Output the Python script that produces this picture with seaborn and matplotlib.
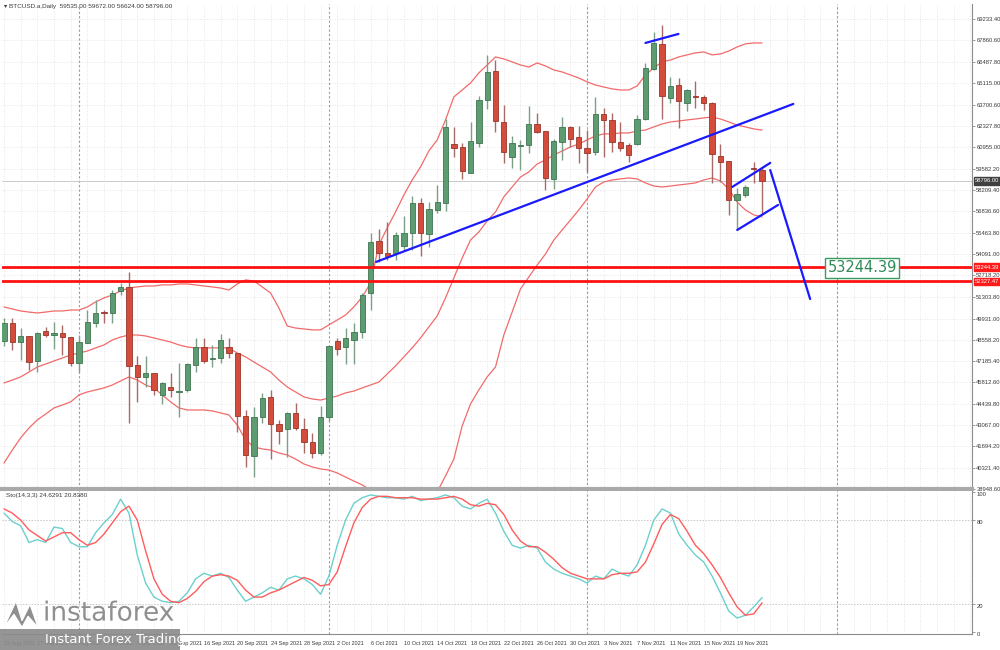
import numpy as np
import pandas as pd
import matplotlib
matplotlib.use("Agg")
import matplotlib.pyplot as plt
import matplotlib.dates as mdates
import matplotlib.transforms as mtrans
import matplotlib.patheffects as pe
from matplotlib.patches import Rectangle, Polygon
import seaborn as sns

# ---------------- data ----------------
start_date = "2021-08-23"
n_days = 92
dates = pd.date_range(start_date, periods=n_days, freq="D")

open_ = [48490, 49650, 48420, 48810, 47200, 49130, 48870, 49000, 48740, 47070,
         48360, 49650, 50350, 50290, 51710, 51970, 46940, 46170, 46420, 45010,
         45520, 45200, 45330, 46940, 48100, 47330, 47390, 48100, 47710, 43650,
         41080, 43590, 44880, 43140, 42820, 43850, 42820, 41980, 41270, 43590,
         48490, 48100, 48550, 49070, 51580, 54930, 54160, 54160, 54610, 55450,
         57380, 55380, 56930, 57380, 61180, 60990, 59310, 61250, 64020, 65880,
         62600, 60340, 61050, 61120, 62470, 62020, 58930, 61310, 62280, 61630,
         60920, 60670, 63110, 62730, 61310, 61120, 61180, 62790, 66010, 67630,
         64140, 64980, 63820, 64270, 64210, 63820, 60410, 60090, 57570, 57890,
         59630, 59535]
high = [49970, 49970, 49320, 48810, 49070, 49390, 49710, 49520, 48740, 48870,
        50480, 51130, 50480, 51770, 52220, 52930, 47520, 47520, 46420, 45840,
        46420, 47070, 47070, 48680, 48680, 48230, 48940, 48680, 47710, 44040,
        44230, 45140, 45330, 43400, 43910, 44490, 43520, 42560, 44300, 48160,
        48680, 49320, 49650, 51580, 55450, 55700, 56150, 55510, 56540, 57830,
        57700, 57440, 58540, 62790, 62280, 61250, 62600, 64270, 66920, 66590,
        63690, 61700, 61440, 63630, 63180, 62020, 61500, 62920, 62340, 62340,
        62080, 64210, 63500, 63180, 62600, 61250, 63050, 66400, 68400, 68850,
        65500, 65430, 64730, 65240, 64340, 63890, 61180, 60090, 58350, 58540,
        60020, 59672]
low = [48160, 47910, 47260, 46620, 46490, 48740, 47970, 47580, 46880, 46490,
       48360, 49390, 49650, 49650, 51450, 43200, 44560, 45520, 45010, 44430,
       44880, 43590, 45200, 46490, 47070, 46810, 47070, 47390, 42620, 40370,
       39720, 43200, 40880, 41850, 41010, 42750, 41270, 40950, 41140, 43330,
       47580, 47000, 47000, 48680, 50480, 53580, 53710, 53710, 54350, 54350,
       53960, 54540, 56730, 56860, 60340, 58930, 59310, 60990, 63440, 61950,
       59960, 59630, 59510, 60600, 61890, 58220, 58280, 60150, 60990, 59960,
       59380, 60470, 60340, 60670, 60730, 60020, 61120, 62730, 65950, 62790,
       63820, 62210, 63310, 63500, 63370, 58670, 58730, 56610, 55640, 57770,
       58670, 56624]
close = [49650, 48420, 48810, 47130, 49000, 48870, 49000, 48740, 47070, 48420,
         49710, 50290, 50290, 51580, 51970, 46880, 46170, 46420, 45330, 45780,
         45330, 45260, 47000, 48100, 47200, 47390, 48550, 47710, 43650, 41140,
         43590, 44810, 43140, 42690, 43850, 42880, 41980, 41270, 43590, 48160,
         47970, 48680, 49070, 51450, 54870, 54160, 53960, 55320, 55450, 57380,
         55450, 56990, 57440, 62280, 60920, 59440, 61370, 64020, 65820, 62660,
         60670, 61250, 61120, 62470, 61950, 58990, 61370, 62280, 61500, 60920,
         60600, 63110, 62730, 61310, 60920, 60470, 62790, 66080, 67690, 64270,
         64920, 63950, 64660, 64210, 63820, 60540, 60020, 57570, 57960, 58410,
         59570, 58796]

bb_upper = [50680, 50550, 50420, 50350, 50290, 50350, 50420, 50420, 50480, 50480,
            50680, 51000, 51260, 51450, 51710, 51900, 51970, 52030, 52030, 52100,
            52100, 52160, 52160, 52100, 52030, 51970, 51900, 51770, 52160, 52420,
            52350, 51970, 51580, 50610, 49450, 49320, 49260, 49200, 49200, 49520,
            49840, 50160, 50680, 51320, 52220, 54670, 55770, 56800, 57890, 58860,
            59700, 60730, 61440, 62730, 64210, 64660, 65110, 65760, 66270, 66790,
            66660, 66470, 66270, 66140, 66400, 66210, 65950, 65820, 65630, 65430,
            65180, 64980, 64850, 64730, 64660, 64660, 64920, 65630, 66080, 66470,
            66590, 66790, 66920, 67050, 67110, 66920, 66980, 67170, 67430, 67630,
            67690, 67690]
bb_mid = [45780, 45970, 46170, 46490, 46810, 47000, 47200, 47390, 47580, 47710,
          47840, 48040, 48230, 48550, 48740, 48870, 48870, 48810, 48680, 48550,
          48420, 48230, 48100, 48040, 48040, 48040, 48040, 48040, 47710, 47460,
          47130, 46810, 46490, 45970, 45520, 45200, 44880, 44750, 44680, 44810,
          44940, 45140, 45260, 45460, 45650, 45840, 46360, 46880, 47460, 48040,
          48680, 49390, 50100, 51260, 52550, 53830, 54990, 55510, 56220, 56800,
          57770, 58410, 59050, 59380, 59890, 60150, 60470, 60730, 60990, 61180,
          61440, 61700, 61830, 61830, 61890, 61890, 62020, 62080, 62280, 62470,
          62600, 62660, 62730, 62790, 62860, 62920, 62790, 62600, 62400, 62280,
          62150, 62080]
bb_lower = [40620, 41460, 42240, 42880, 43400, 43780, 44170, 44360, 44560, 45010,
            45200, 45330, 45460, 45650, 45910, 46170, 45970, 45650, 45460, 45010,
            44560, 44170, 44040, 44040, 44040, 43980, 43850, 43720, 43070, 42110,
            41660, 41530, 41460, 41270, 41140, 40880, 40560, 40370, 40240, 40170,
            39980, 39720, 39460, 39210, 38880, 37270, 37080, 37080, 37150, 37340,
            37720, 38110, 38760, 39790, 40880, 43010, 44430, 45330, 46170, 46810,
            48870, 50350, 51840, 52610, 53380, 54090, 54990, 55640, 56280, 56930,
            57640, 58410, 58730, 58860, 58930, 58990, 58930, 58670, 58470, 58410,
            58470, 58540, 58600, 58670, 58860, 58990, 58800, 58280, 57440, 56930,
            56610, 56480]

sto_k = [85, 79, 76, 64, 66, 64, 75, 74, 64, 61,
         61, 71, 78, 84, 95, 85, 55, 35, 25, 22,
         21, 22, 28, 38, 42, 40, 42, 39, 30, 22,
         25, 28, 32, 30, 38, 40, 38, 34, 27, 40,
         62, 80, 92, 96, 98, 97, 96, 96, 95, 97,
         94, 95, 96, 98, 96, 90, 88, 92, 95, 85,
         72, 62, 60, 62, 60, 50, 45, 42, 40, 38,
         35, 40, 38, 45, 42, 40, 48, 62, 80, 88,
         85, 70, 62, 55, 50, 40, 28, 15, 10, 12,
         18, 24.63]
sto_d = [88, 85, 80, 73, 69, 65, 68, 71, 71, 66,
         62, 64, 70, 78, 86, 90, 80, 58, 38, 27,
         22, 21, 24, 29, 36, 40, 41, 40, 37, 30,
         25, 25, 28, 30, 33, 36, 39, 37, 33, 34,
         43, 61, 78, 89, 95, 97, 97, 96, 96, 96,
         95, 95, 95, 96, 97, 95, 91, 90, 92, 91,
         84, 73, 65, 61, 61, 57, 52, 46, 42, 40,
         38, 38, 38, 41, 42, 42, 43, 50, 63, 77,
         84, 81, 72, 62, 56, 48, 39, 28, 18, 12,
         13, 20.84]

price_ticks = [69233.40, 67860.60, 66487.80, 65115.00, 63700.60, 62327.80, 60955.00,
               59582.20, 58209.40, 56836.60, 55463.80, 54091.00, 52718.20, 51303.80,
               49931.00, 48558.20, 47185.40, 45812.60, 44439.80, 43067.00, 41694.20,
               40321.40, 38948.60]
sto_ticks = [100, 80, 20, 0]
date_tick_labels = ["23 Aug 2021", "27 Aug 2021", "31 Aug 2021", "4 Sep 2021", "8 Sep 2021",
                    "12 Sep 2021", "16 Sep 2021", "20 Sep 2021", "24 Sep 2021", "28 Sep 2021",
                    "2 Oct 2021", "6 Oct 2021", "10 Oct 2021", "14 Oct 2021", "18 Oct 2021",
                    "22 Oct 2021", "26 Oct 2021", "30 Oct 2021", "3 Nov 2021", "7 Nov 2021",
                    "11 Nov 2021", "15 Nov 2021", "19 Nov 2021"]
month_starts = ["2021-09-01", "2021-10-01", "2021-11-01", "2021-12-01"]

support_levels = [53244.39, 52327.47]
last_price = 58796.00
target_label = "53244.39"

# blue hand-drawn annotation lines: (start time, start price, end time, end price)
trend_lines = [
    ("2021-10-06 16:00", 53580, "2021-11-25 18:00", 63760),
    ("2021-11-08 00:00", 67690, "2021-11-11 23:00", 68270),
    ("2021-11-18 10:00", 58410, "2021-11-22 23:30", 59960),
    ("2021-11-19 00:30", 55640, "2021-11-23 22:00", 57250),
    ("2021-11-22 23:30", 59500, "2021-11-27 18:30", 51190),
]
target_text_pos = ("2021-11-29 20:00", 53190)

header = "\u25be BTCUSD.a,Daily  59535.00 59672.00 56624.00 58796.00"
sto_header = "Sto(14,3,3) 24.6291 20.8380"

# ---------------- style ----------------
sns.set_theme(style="white")
plt.rcParams['font.family'] = ['Liberation Sans', 'DejaVu Sans']

GREEN = "#5d9c70"
GREEN_EDGE = "#3f7552"
GREEN_WICK = "#7d9f88"
RED = "#d44c3c"
RED_EDGE = "#98352a"
RED_WICK = "#a86a66"
BAND = "#f26a6a"
GRID = "#dedede"
SEP = "#9a9a9a"
TXT = "#3a3a3a"
FS = 4.2

fig = plt.figure(figsize=(10, 6.5), dpi=100)
ax = fig.add_axes([0.002, 0.2477, 0.970, 0.7462])
ax2 = fig.add_axes([0.002, 0.0246, 0.970, 0.2200], sharex=ax)

x = mdates.date2num(dates)
x0 = x[0]
df = pd.DataFrame({"x": x, "upper": bb_upper, "mid": bb_mid, "lower": bb_lower,
                   "k": sto_k, "d": sto_d})

ax.set_xlim(x0 - 0.24, x0 + 116.2)
ax.set_ylim(38948.6, 70202)
ax2.set_ylim(-1.4, 100.8)

# grids
for a in (ax, ax2):
    for gx in np.arange(x0, x0 + 117, 2):
        a.axvline(gx, color=GRID, lw=0.6, ls=(0, (1, 2)), zorder=0)
for t in price_ticks:
    ax.axhline(t, color=GRID, lw=0.6, ls=(0, (1, 2)), zorder=0)
for t in (80, 20):
    ax2.axhline(t, color="#c8c8c8", lw=0.7, ls=(0, (1.5, 1.5)), zorder=0)
for m in month_starts:
    mx = mdates.date2num(pd.Timestamp(m))
    for a in (ax, ax2):
        a.axvline(mx, color=SEP, lw=0.8, ls=(0, (2, 2)), zorder=1)

# last price line
ax.axhline(last_price, color="#c9c9c9", lw=0.7, zorder=1)

# bollinger bands
for col in ("upper", "mid", "lower"):
    sns.lineplot(data=df, x="x", y=col, ax=ax, color=BAND, lw=0.9, zorder=2,
                 legend=False)

# candles
w = 0.64
for xi, o, h, l, c in zip(x, open_, high, low, close):
    up = c >= o
    ax.vlines(xi, l, h, color=GREEN_WICK if up else RED_WICK, lw=1.0, zorder=3)
    bottom = min(o, c)
    height = max(abs(c - o), 60)
    ax.add_patch(Rectangle((xi - w / 2, bottom), w, height,
                           facecolor=GREEN if up else RED,
                           edgecolor=GREEN_EDGE if up else RED_EDGE,
                           lw=0.6, zorder=4))

# support lines
for lvl in support_levels:
    ax.axhline(lvl, color="#ff1010", lw=2.0, zorder=5)

# blue annotation lines
for t0, p0, t1, p1 in trend_lines:
    ax.plot([mdates.date2num(pd.Timestamp(t0)), mdates.date2num(pd.Timestamp(t1))],
            [p0, p1], color="#1a1aff", lw=1.6, zorder=6, solid_capstyle="round")

ax.text(mdates.date2num(pd.Timestamp(target_text_pos[0])), target_text_pos[1], target_label,
        fontsize=10.5, color="#2e8b57", ha="left", va="center", zorder=7,
        family=["DejaVu Sans"],
        bbox=dict(boxstyle="square,pad=0.15", fc="white", ec="#3c9a5f", lw=1.0))

# stochastic
sns.lineplot(data=df, x="x", y="k", ax=ax2, color="#6cd0cc", lw=1.0, legend=False, zorder=3)
sns.lineplot(data=df, x="x", y="d", ax=ax2, color="#ff5c5c", lw=1.0, legend=False, zorder=4)

# axes cosmetics
for a in (ax, ax2):
    a.set_xlabel("")
    a.set_ylabel("")
    a.yaxis.tick_right()
    for s in a.spines.values():
        s.set_color("#8c8c8c")
        s.set_linewidth(0.8)
    a.spines["top"].set_visible(False)
    a.tick_params(axis="y", length=2.5, width=0.6, color="#8c8c8c", labelsize=FS,
                  labelcolor=TXT, pad=0.6)
ax.spines["left"].set_visible(False)
ax2.spines["left"].set_visible(False)
ax.spines["bottom"].set_color("#a9a9a9")
ax.spines["bottom"].set_linewidth(3.0)

ax.set_yticks(price_ticks)
ax.set_yticklabels([f"{t:.2f}" for t in price_ticks])
ax2.set_yticks(sto_ticks)
ax2.set_yticklabels([str(t) for t in sto_ticks])
for lbl in ax2.get_yticklabels():
    lbl.set_verticalalignment("top")

tick_x = [x0 + 4 * k for k in range(len(date_tick_labels))]
ax2.set_xticks(tick_x)
ax2.set_xticklabels(date_tick_labels, ha="left")
ax2.tick_params(axis="x", length=3, width=0.6, color="#8c8c8c", labelsize=4.0,
                labelcolor=TXT, pad=2)
ax.tick_params(axis="x", length=0, labelbottom=False)

# right-axis price boxes
btrans = mtrans.blended_transform_factory(ax.transAxes, ax.transData)
for lvl in support_levels:
    ax.text(1.003, lvl, f"{lvl:.2f}", transform=btrans, fontsize=FS, color="white",
            ha="left", va="center", zorder=8, clip_on=False,
            bbox=dict(boxstyle="square,pad=0.2", fc="#ff1a1a", ec="#ff1a1a"))
ax.text(1.003, last_price, f"{last_price:.2f}", transform=btrans, fontsize=FS,
        color="white", ha="left", va="center", zorder=8, clip_on=False,
        bbox=dict(boxstyle="square,pad=0.2", fc="#404040", ec="#404040"))

# headers
fig.text(0.004, 0.994, header, fontsize=4.6, color=TXT, ha="left", va="top",
         family=["Liberation Sans", "DejaVu Sans"])
ax2.text(0.004, 0.985, sto_header, transform=ax2.transAxes, fontsize=4.6, color=TXT,
         ha="left", va="top")

# watermark logo
fig.patches.append(Rectangle((0.0, 0.0), 0.18, 0.032, transform=fig.transFigure,
                             facecolor="#8a8a8a", alpha=0.9, edgecolor="none", zorder=9))
fig.text(0.045, 0.006, "Instant Forex Trading", fontsize=9.5, color="white",
         ha="left", va="bottom", zorder=10, family=["DejaVu Sans"])
fig.text(0.043, 0.036, "instaforex", fontsize=19, color="#8f8f8f", ha="left",
         va="bottom", zorder=10, family=["DejaVu Sans"],
         path_effects=[pe.withStroke(linewidth=1.5, foreground="white")])
fig.patches.append(Polygon([[0.004, 0.035], [0.016, 0.075], [0.022, 0.045], [0.030, 0.07],
                            [0.038, 0.035], [0.028, 0.052], [0.022, 0.035], [0.014, 0.055]],
                           closed=True, transform=fig.transFigure, facecolor="#8f8f8f",
                           edgecolor="white", lw=0.8, zorder=9))

fig.savefig("out.png", dpi=100)
